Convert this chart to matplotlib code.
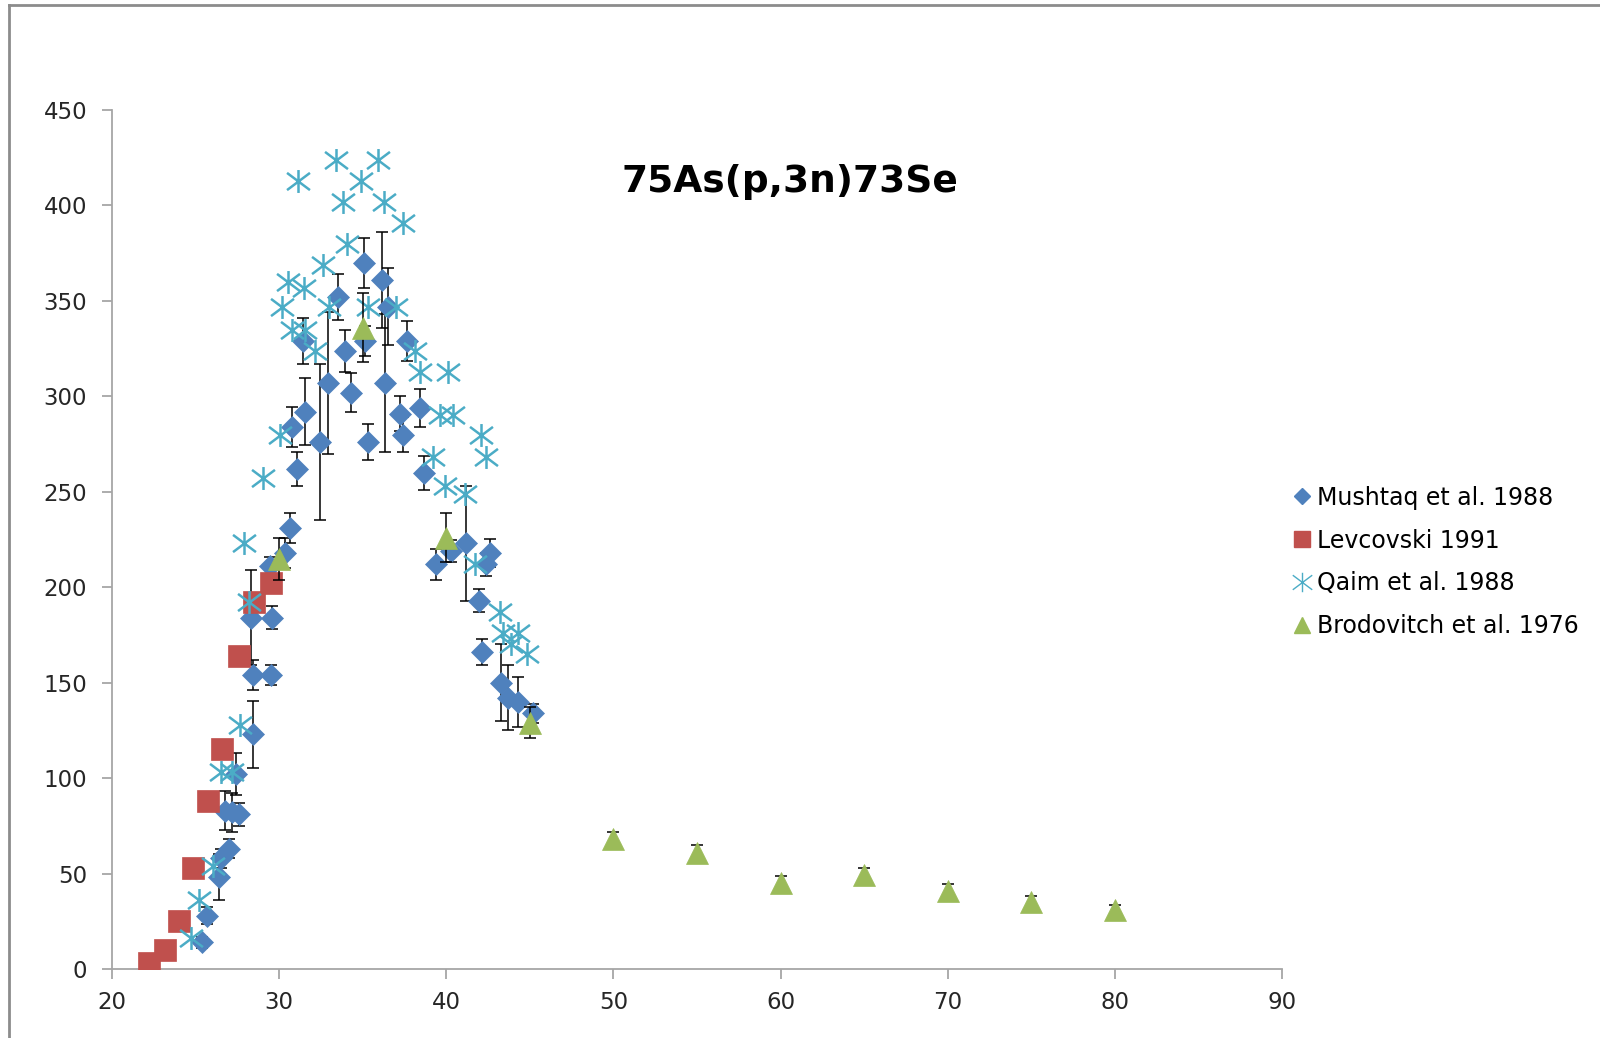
import numpy as np
import matplotlib.pyplot as plt
from matplotlib.path import Path
from matplotlib.lines import Line2D

plt.rcParams['font.family'] = ['DejaVu Sans']

# Mushtaq et al. 1988: energy (MeV), cross section (mb), uncertainty
mushtaq_x = [25.4, 25.7, 26.4, 26.55, 27.0, 26.75, 27.2, 27.6, 27.4, 28.45,
             28.45, 28.3, 29.5, 29.6, 29.45, 30.35, 30.65, 31.05, 30.75, 31.45,
             31.55, 32.45, 32.9, 33.5, 33.96, 34.3, 35.07, 35.14, 35.3, 36.17,
             36.5, 36.33, 37.23, 37.4, 37.67, 38.4, 38.67, 39.36, 40.26, 41.2,
             42.6, 42.4, 41.96, 42.15, 43.3, 43.7, 44.3, 45.2]
mushtaq_y = [14, 28, 48, 58, 63, 83, 82, 81, 102, 123,
             154, 184, 154, 184, 211, 218, 231, 262, 284, 329,
             292, 276, 307, 352, 324, 302, 370, 329, 276, 361,
             347, 307, 291, 280, 329, 294, 260, 212, 219, 223,
             218, 212, 193, 166, 150, 142, 140, 134]
mushtaq_err = [3, 4.5, 12, 5, 5, 10, 10, 6, 11, 17.5,
               8, 25, 5, 6, 5, 8, 8, 9, 10.5, 12,
               17.5, 41, 37, 12, 11, 10, 13, 8, 9.6, 25,
               20, 36, 9, 9.3, 10.7, 10, 9, 8, 6, 30,
               7.5, 6, 6, 7, 20, 17, 13, 5]

# Levcovski 1991
levcovski_x = [22.2, 23.2, 24.0, 24.85, 25.75, 26.6, 27.6, 28.5, 29.5]
levcovski_y = [3, 10, 25, 53, 88, 115, 164, 192, 202]

# Qaim et al. 1988
qaim_x = [24.7, 25.2, 26.06, 26.5, 27.2, 27.66, 28.2, 27.9, 29.05, 30.05,
          30.15, 30.5, 30.75, 31.15, 31.5, 31.55, 32.15, 32.6, 33.0, 33.4,
          33.84, 34.04, 34.9, 35.3, 35.9, 36.3, 37.0, 37.4, 38.1, 38.4,
          39.2, 39.6, 39.9, 40.1, 40.4, 41.1, 41.7, 42.1, 42.4, 43.2,
          43.4, 43.9, 44.3, 44.8]
qaim_y = [16, 36, 54, 103, 103, 128, 192, 223, 257, 280,
          347, 360, 335, 413, 357, 335, 324, 369, 347, 424,
          402, 380, 413, 347, 424, 402, 347, 391, 324, 313,
          268, 290, 253, 313, 290, 249, 212, 280, 268, 187,
          176, 170, 176, 165]

# Brodovitch et al. 1976
brodovitch_x = [30, 35, 40, 45, 50, 55, 60, 65, 70, 75, 80]
brodovitch_y = [215, 336, 226, 129, 68, 61, 45, 49, 41, 35, 31]
brodovitch_err = [11, 18, 13, 8, 4, 4, 3.5, 4, 3.5, 3, 2.5]

blue = '#4F81BD'
red = '#C0504D'
aqua = '#4BACC6'
green = '#9BBB59'

# asterisk marker: vertical bar plus a wide X
star = Path([(0, -1), (0, 1), (-1, -0.75), (1, 0.75), (-1, 0.75), (1, -0.75)],
            [Path.MOVETO, Path.LINETO] * 3)

fig = plt.figure(figsize=(16, 10.38), dpi=100)
ax = fig.add_axes([0.07, 0.0665, 0.73125, 0.8275])

ax.errorbar(mushtaq_x, mushtaq_y, yerr=mushtaq_err, fmt='none', ecolor='black',
            elinewidth=1.1, capsize=4.5, capthick=1.1, zorder=2)
ax.plot(mushtaq_x, mushtaq_y, 'D', color=blue, ms=11.5, mec=blue, mew=0.5,
        zorder=3)
ax.plot(levcovski_x, levcovski_y, 's', color=red, ms=15.5, mec=red, mew=0.5,
        zorder=4)
ax.plot(qaim_x, qaim_y, ls='none', marker=star, ms=16.5, mfc='none', mec=aqua,
        mew=1.8, zorder=5)
ax.errorbar(brodovitch_x, brodovitch_y, yerr=brodovitch_err, fmt='none',
            ecolor='black', elinewidth=1.1, capsize=4.5, capthick=1.1, zorder=5)
ax.plot(brodovitch_x, brodovitch_y, '^', color=green, ms=16.5, mec=green,
        mew=0.5, zorder=6)

ax.set_xlim(20, 90)
ax.set_ylim(0, 450)
ax.set_xticks(np.arange(20, 91, 10))
ax.set_yticks(np.arange(0, 451, 50))
for side in ['top', 'right']:
    ax.spines[side].set_visible(False)
for side in ['left', 'bottom']:
    ax.spines[side].set_color('#A6A6A6')
    ax.spines[side].set_linewidth(1.3)
ax.tick_params(direction='out', length=7, width=1.3, color='#A6A6A6',
               labelsize=16.5, labelcolor='#262626')
ax.tick_params(axis='y', pad=11)
ax.tick_params(axis='x', pad=9)

ax.text(0.5795, 0.9166, '75As(p,3n)73Se', transform=ax.transAxes,
        fontsize=27, fontweight='bold', ha='center', va='center')

handles = [
    Line2D([], [], ls='none', marker='D', color=blue, ms=8),
    Line2D([], [], ls='none', marker='s', color=red, ms=12),
    Line2D([], [], ls='none', marker=star, ms=14, mfc='none', mec=aqua, mew=1),
    Line2D([], [], ls='none', marker='^', color=green, ms=12),
]
labels = ['Mushtaq et al. 1988', 'Levcovski 1991', 'Qaim et al. 1988',
          'Brodovitch et al. 1976']
fig.legend(handles, labels, loc='center left',
           bbox_to_anchor=(1292 / 1600, 1 - 562 / 1038), frameon=False,
           fontsize=17, handlelength=0.85, handletextpad=0.22,
           labelspacing=0.8, borderpad=0, borderaxespad=0)

# chart area outline
fig.add_artist(Line2D([9 / 1600, 9 / 1600], [0, 1 - 5 / 1038],
                      transform=fig.transFigure, color='#8C8C8C', lw=2))
fig.add_artist(Line2D([9 / 1600, 1], [1 - 5 / 1038, 1 - 5 / 1038],
                      transform=fig.transFigure, color='#8C8C8C', lw=2))

fig.savefig('out.png', dpi=100)
